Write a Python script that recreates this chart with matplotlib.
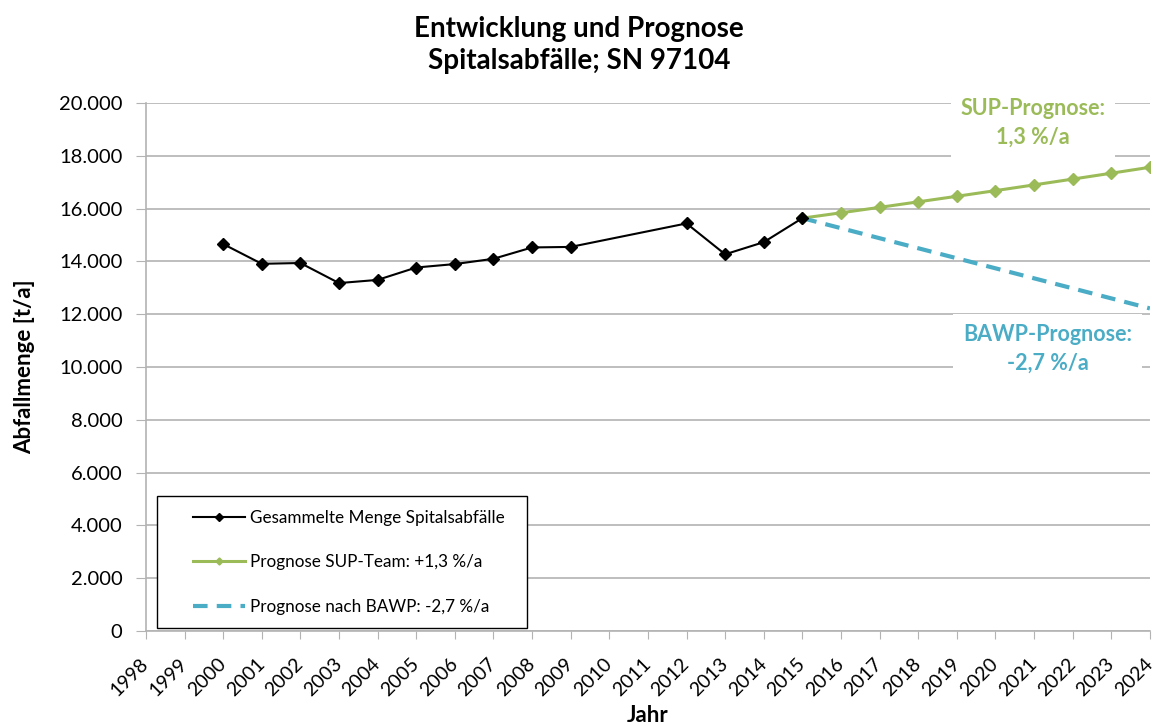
import matplotlib.pyplot as plt
from matplotlib.patches import Rectangle
from matplotlib.ticker import FuncFormatter, MultipleLocator

# Collected hospital waste (t/a)
years = [2000, 2001, 2002, 2003, 2004, 2005, 2006, 2007, 2008, 2009, 2012, 2013, 2014, 2015]
menge = [14660, 13910, 13940, 13180, 13300, 13770, 13900, 14100, 14530, 14550, 15440, 14270, 14730, 15640]

# SUP team forecast (+1.3 %/a)
sup_years = [2015, 2016, 2017, 2018, 2019, 2020, 2021, 2022, 2023, 2024]
sup_values = [15640, 15843, 16049, 16258, 16469, 16683, 16900, 17120, 17343, 17568]

# BAWP forecast (-2.7 %/a)
bawp_years = [2015, 2024]
bawp_values = [15640, 12220]

black = '#000000'
green = '#9bbb59'
blue = '#4bacc6'
grid_c = '#b3b3b3'

plt.rcParams['font.family'] = ['Lato', 'DejaVu Sans']

fig = plt.figure(figsize=(11.58, 7.26), dpi=100)
ax = fig.add_axes([0.126, 0.131, 0.867, 0.727])

ax.plot(years, menge, color=black, lw=1.5, marker='D', ms=6.5, label='Gesammelte Menge Spitalsabfälle', zorder=4)
ax.plot(sup_years, sup_values, color=green, lw=2.2, marker='D', ms=6, label='Prognose SUP-Team: +1,3 %/a', zorder=3)
ax.plot(bawp_years, bawp_values, color=blue, lw=3, ls=(0, (3.5, 2.2)), label='Prognose nach BAWP: -2,7 %/a', zorder=3)

ax.set_xlim(1998, 2024)
ax.set_ylim(0, 20000)
ax.xaxis.set_major_locator(MultipleLocator(1))
ax.yaxis.set_major_locator(MultipleLocator(2000))
ax.yaxis.set_major_formatter(FuncFormatter(lambda v, p: f'{int(v):,}'.replace(',', '.')))
ax.grid(axis='y', color=grid_c, lw=1.2, zorder=0)
ax.set_axisbelow(True)

for s in ['top', 'right']:
    ax.spines[s].set_visible(False)
for s in ['left', 'bottom']:
    ax.spines[s].set_color(grid_c)
    ax.spines[s].set_linewidth(1.2)

ax.tick_params(axis='x', direction='out', length=6, color=grid_c, labelsize=14, pad=16)
ax.tick_params(axis='y', direction='out', length=7, color=grid_c, labelsize=14.5, pad=10)
for lbl in ax.get_xticklabels():
    lbl.set_rotation(45)
    lbl.set_ha('right')
    lbl.set_va('center')
    lbl.set_rotation_mode('anchor')

ax.set_xlabel('Jahr', fontsize=16, fontweight='bold', labelpad=4)
ax.set_ylabel('Abfallmenge [t/a]', fontsize=16, fontweight='bold', labelpad=17)
fig.suptitle('Entwicklung und Prognose\nSpitalsabfälle; SN 97104', fontsize=20, fontweight='bold',
             y=0.978, linespacing=1.3)

ax.text(2020.98, 19240, 'SUP-Prognose:\n1,3 %/a', color=green, fontsize=15.5, fontweight='bold',
        ha='center', va='center', linespacing=1.45,
        bbox=dict(facecolor='white', edgecolor='none', pad=7), zorder=2)
ax.text(2021.35, 10700, 'BAWP-Prognose:\n-2,7 %/a', color=blue, fontsize=15.5, fontweight='bold',
        ha='center', va='center', linespacing=1.45,
        bbox=dict(facecolor='white', edgecolor='none', pad=7), zorder=2)

# legend frame drawn separately so the side padding can be wider than the top/bottom padding
ax.add_patch(Rectangle((0.011, 0.006), 0.369, 0.25, transform=ax.transAxes, facecolor='white',
                       edgecolor=black, lw=1.0, zorder=5))
leg = ax.legend(loc='center left', bbox_to_anchor=(0.047, 0.13), fontsize=12.3, frameon=False,
                handlelength=3.05, labelspacing=1.66, borderpad=0, markerscale=0.6,
                handletextpad=0.3, borderaxespad=0)
leg.set_zorder(6)

fig.savefig('out.png', dpi=100)
